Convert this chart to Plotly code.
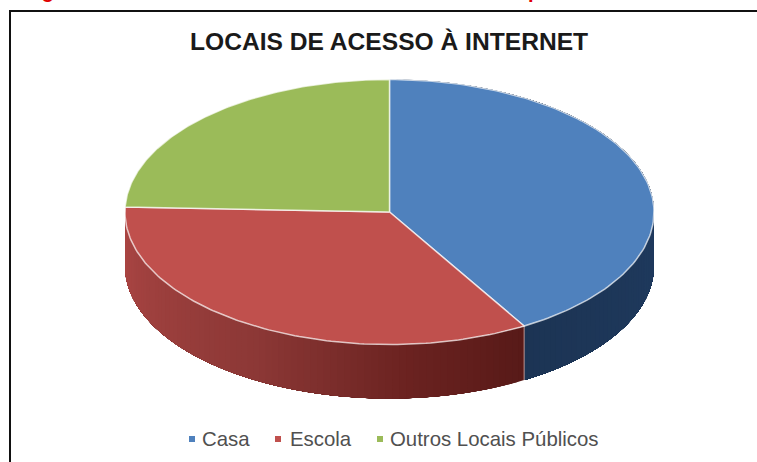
import numpy as np
import plotly.graph_objects as go

# Chart data
categories = ["Casa", "Escola", "Outros Locais Públicos"]
shares = [41.5, 34.1, 24.4]
top_colors = ["#4F81BD", "#C0504D", "#9BBB59"]

# Pie geometry in page pixels (tilted disc)
CX, CY = 389.5, 212.0
RX, RY = 264.5, 132.5
DEPTH = 54.0
WIDTH, HEIGHT = 757, 462

# Shading of the outer wall, as (angle clockwise from 12 o'clock, colour)
wall_shades = {
    "Casa": [(90, (31, 58, 94)), (150, (28, 52, 84))],
    "Escola": [(150, (88, 26, 24)), (175, (106, 34, 32)), (210, (140, 56, 54)), (270, (172, 70, 68))],
}


def rim(theta_deg, drop=0.0):
    t = np.radians(theta_deg)
    return CX + RX * np.sin(t), CY - RY * np.cos(t) + drop


def shade_at(stops, angle):
    angles = [s[0] for s in stops]
    rgb = [np.interp(angle, angles, [s[1][i] for s in stops]) for i in range(3)]
    return "rgb({:.0f},{:.0f},{:.0f})".format(*rgb)


fractions = np.array(shares) / sum(shares)
edges = np.concatenate([[0.0], np.cumsum(fractions) * 360.0])

fig = go.Figure()

# Outer wall: each band runs to the end of its section and is overpainted by
# the next, so the shading steps around the rim without seams
for i, name in enumerate(categories):
    if name not in wall_shades:
        continue
    start, end = edges[i], min(edges[i + 1], 270.0)
    cuts = np.arange(start, end, 1.5).tolist()
    for a in cuts:
        arc = np.linspace(a, end, 60)
        xt, yt = rim(arc)
        xb, yb = rim(arc[::-1], DEPTH)
        colour = shade_at(wall_shades[name], a + 0.75)
        fig.add_trace(go.Scatter(
            x=np.concatenate([xt, xb]), y=np.concatenate([yt, yb]),
            mode="none", fill="toself", fillcolor=colour,
            hoverinfo="skip", showlegend=False,
        ))

# Seam between the two visible wall sections
seam_x, seam_y = rim(edges[1])
fig.add_trace(go.Scatter(
    x=[seam_x, seam_x], y=[seam_y, seam_y + DEPTH], mode="lines",
    line=dict(color="rgba(235,190,180,0.75)", width=1), hoverinfo="skip", showlegend=False,
))

# Top face of each slice
for i, name in enumerate(categories):
    arc = np.linspace(edges[i], edges[i + 1], 120)
    xs, ys = rim(arc)
    fig.add_trace(go.Scatter(
        x=np.concatenate([[CX], xs, [CX]]), y=np.concatenate([[CY], ys, [CY]]),
        mode="lines", fill="toself", fillcolor=top_colors[i],
        line=dict(color="rgba(255,255,255,0.7)", width=1.5), name=name, showlegend=False,
        hoverinfo="name",
    ))

# Legend row
legend_marker_x = [192, 278, 380]
legend_text_x = [200, 288, 388]
LEGEND_Y = 439
for i, name in enumerate(categories):
    fig.add_trace(go.Scatter(
        x=[legend_marker_x[i]], y=[LEGEND_Y], mode="markers",
        marker=dict(symbol="square", size=6, color=top_colors[i]),
        hoverinfo="skip", showlegend=False,
    ))
    fig.add_annotation(
        x=legend_text_x[i], y=LEGEND_Y, xref="x", yref="y", text=name, showarrow=False,
        xanchor="left", yanchor="middle", font=dict(family="Liberation Sans", size=20.4, color="#505050"),
    )

# Chart title
fig.add_annotation(
    x=388.5, y=41, xref="x", yref="y", text="<b>LOCAIS DE ACESSO À INTERNET</b>", showarrow=False,
    font=dict(family="Liberation Sans", size=24.6, color="#1a1a1a"),
)

# Caption above the frame, running off the top of the page
for text, xpos in [("Figura", 22), ("p", 526)]:
    fig.add_annotation(
        x=xpos / WIDTH, y=1, xref="paper", yref="paper", text=f"<b>{text}</b>", showarrow=False,
        xanchor="left", yanchor="bottom", yshift=-4,
        font=dict(family="Liberation Sans", size=20, color="#E00000"),
    )

fig.update_layout(
    width=WIDTH, height=HEIGHT, autosize=False,
    margin=dict(l=0, r=0, t=0, b=0),
    paper_bgcolor="white", plot_bgcolor="white",
    xaxis=dict(visible=False, range=[0, WIDTH], fixedrange=True),
    yaxis=dict(visible=False, range=[HEIGHT, 0], fixedrange=True),
    shapes=[dict(
        type="path", path=f"M 10 {HEIGHT + 10} L 10 11 L {WIDTH + 10} 11",
        line=dict(color="#111111", width=2), xref="x", yref="y",
    )],
)

fig.write_html("out.html")
